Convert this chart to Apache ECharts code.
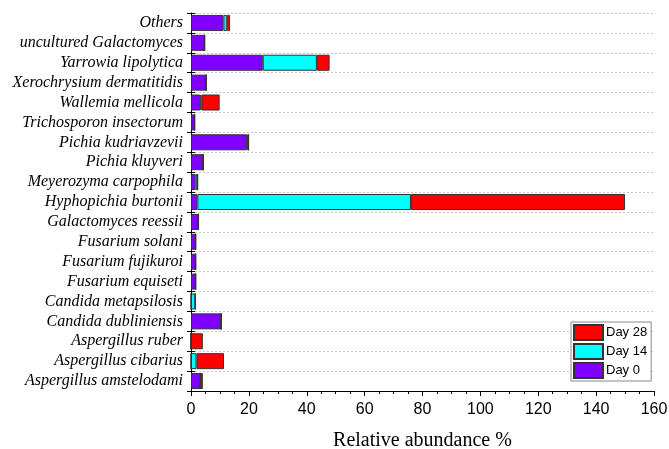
<!DOCTYPE html>
<html>
<head>
<meta charset="utf-8">
<script src="https://cdn.jsdelivr.net/npm/echarts@6/dist/echarts.min.js"></script>
<style>
  html, body { margin: 0; padding: 0; background: #fff; }
  #chart { width: 669px; height: 449px; }
</style>
</head>
<body>
<div id="chart"></div>
<script>
// categories listed bottom -> top (category y axis starts at the bottom)
const species = [
  "Aspergillus amstelodami", "Aspergillus cibarius", "Aspergillus ruber",
  "Candida dubliniensis", "Candida metapsilosis", "Fusarium equiseti",
  "Fusarium fujikuroi", "Fusarium solani", "Galactomyces reessii",
  "Hyphopichia burtonii", "Meyerozyma carpophila", "Pichia kluyveri",
  "Pichia kudriavzevii", "Trichosporon insectorum", "Wallemia mellicola",
  "Xerochrysium dermatitidis", "Yarrowia lipolytica", "uncultured Galactomyces",
  "Others"
];
const day0 = [3.3, 0, 0, 10.4, 0, 1.6, 1.6, 1.6, 2.6, 2.2, 1.6, 4.2, 19.4, 1.25, 3.2, 5.2, 24.8, 4.7, 11.2];
const day14 = [0, 1.9, 0, 0, 1.5, 0, 0, 0, 0, 73.8, 0.7, 0, 0.5, 0, 0.4, 0, 18.7, 0, 1.3];
const day28 = [0.8, 9.5, 4.1, 0, 0, 0, 0, 0, 0, 74.0, 0, 0, 0, 0, 6.3, 0, 4.4, 0, 1.0];
const xTicks = [0, 20, 40, 60, 80, 100, 120, 140, 160];

const chart = echarts.init(document.getElementById("chart"));

const barStyle = (color) => ({
  color: color,
  borderColor: "#333",
  borderWidth: 1,
});

const mkSeries = (name, data, color) => ({
  name: name,
  type: "bar",
  stack: "total",
  barWidth: 16,
  data: data,
  itemStyle: barStyle(color),
  emphasis: { disabled: true },
});

chart.setOption({
  animation: false,
  grid: { left: 191, right: 15, top: 13, bottom: 58, outerBoundsMode: "none", containLabel: false },
  legend: {
    orient: "vertical",
    left: 571,
    top: 322,
    data: ["Day 28", "Day 14", "Day 0"],
    itemWidth: 29,
    itemHeight: 15,
    itemGap: 2,
    padding: [2, 4, 2, 2],
    borderColor: "#888",
    borderWidth: 1,
    backgroundColor: "#fff",
    icon: "rect",
    textStyle: { fontFamily: "Liberation Sans", fontSize: 13, color: "#000", padding: [0, 0, 0, -2] },
  },
  xAxis: {
    type: "value",
    min: xTicks[0],
    max: xTicks[xTicks.length - 1],
    interval: 20,
    name: "Relative abundance %",
    nameLocation: "middle",
    nameGap: 40,
    nameTextStyle: { fontFamily: "Liberation Serif", fontSize: 20, color: "#000" },
    axisLine: { show: true, lineStyle: { color: "#000", width: 1 } },
    axisTick: { show: true, length: 5, lineStyle: { color: "#000" } },
    minorTick: { show: true, splitNumber: 4, length: 3, lineStyle: { color: "#000" } },
    axisLabel: { fontFamily: "Liberation Sans", fontSize: 16, color: "#000", margin: 11 },
    splitLine: { show: false },
  },
  yAxis: [
    {
      type: "category",
      data: species,
      axisLine: { show: true, lineStyle: { color: "#000", width: 1 } },
      axisTick: { show: true, length: 4, lineStyle: { color: "#000" } },
      axisLabel: {
        interval: 0,
        fontFamily: "Liberation Serif",
        fontStyle: "italic",
        fontSize: 16,
        color: "#000",
        margin: 8,
      },
      splitLine: { show: true, interval: 0, lineStyle: { color: "#c8c8c8", type: [2, 2], width: 1 } },
    },
    {
      // inner half of the crossing ticks
      type: "category",
      data: species,
      position: "left",
      axisLine: { show: false },
      axisTick: { show: true, inside: true, length: 4, lineStyle: { color: "#000" } },
      axisLabel: { show: false },
      splitLine: { show: false },
    },
  ],
  series: [
    mkSeries("Day 0", day0, "#7f00ff"),
    mkSeries("Day 14", day14, "#00ffff"),
    mkSeries("Day 28", day28, "#ff0000"),
  ],
});
</script>
</body>
</html>
